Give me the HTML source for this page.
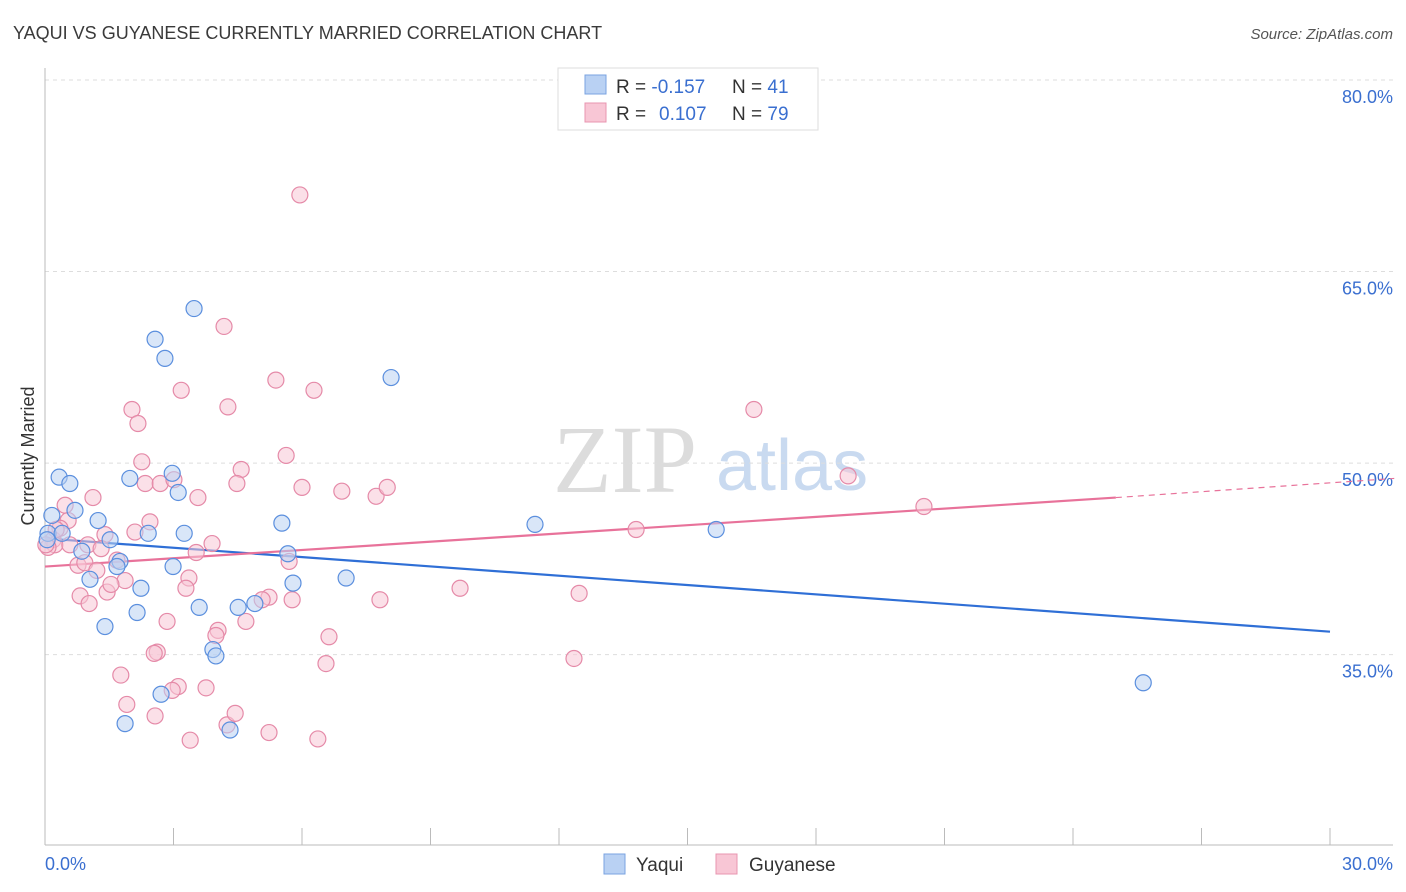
<!DOCTYPE html>
<html><head><meta charset="utf-8"><style>
body{margin:0;background:#fff;font-family:"Liberation Sans",sans-serif}
svg{display:block}
</style></head><body>
<svg id="chart" width="1406" height="892" viewBox="0 0 1406 892" xmlns="http://www.w3.org/2000/svg">
<text x="13" y="39" font-size="18" fill="#3a3a3a" font-family="Liberation Sans, sans-serif">YAQUI VS GUYANESE CURRENTLY MARRIED CORRELATION CHART</text>
<text x="1393" y="39" font-size="15" fill="#555" font-style="italic" text-anchor="end" font-family="Liberation Sans, sans-serif">Source: ZipAtlas.com</text>
<g>
<text x="553" y="492" font-size="96" fill="#dcdcdc" font-family="Liberation Serif, serif">ZIP</text>
<text x="716" y="490" font-size="72" fill="#c9daf0" font-family="Liberation Sans, sans-serif">atlas</text>
</g>
<g id="grid"></g>
<g id="axes"></g>
<g id="lines"></g>
<g id="points"></g>
<text transform="translate(34,456) rotate(-90)" font-size="18" fill="#333" text-anchor="middle" font-family="Liberation Sans, sans-serif">Currently Married</text>
<g>
<rect x="558" y="68" width="260" height="62" fill="#fff" stroke="#ddd"/>
<rect x="585" y="75" width="21" height="19" fill="#b9d1f3" stroke="#7aa3e0"/>
<rect x="585" y="103" width="21" height="19" fill="#f8c6d5" stroke="#e895b0"/>
<text x="616" y="93" font-size="19" fill="#333">R = <tspan fill="#3a6fd0">-0.157</tspan><tspan x="732">N = </tspan><tspan fill="#3a6fd0">41</tspan></text>
<text x="616" y="120" font-size="19" fill="#333">R = <tspan fill="#3a6fd0" x="659">0.107</tspan><tspan x="732">N = </tspan><tspan fill="#3a6fd0">79</tspan></text>
</g>
<g>
<rect x="604" y="854" width="21" height="20" fill="#b9d1f3" stroke="#7aa3e0"/>
<text x="636" y="871" font-size="19" fill="#333">Yaqui</text>
<rect x="716" y="854" width="21" height="20" fill="#f8c6d5" stroke="#e895b0"/>
<text x="749" y="871" font-size="19" fill="#333">Guyanese</text>
</g>
</svg>
<script>
const yTicks=[80,65,50,35];
const yTickLabels=["80.0%","65.0%","50.0%","35.0%"];
const xTickLabels=["0.0%","30.0%"];
const yaquiX=[0.33,0.58,0.16,0.70,1.24,0.07,1.52,0.86,1.05,1.75,1.68,1.98,2.41,2.97,3.11,3.25,2.99,2.24,2.15,1.40,3.60,3.92,3.99,4.51,4.90,4.32,1.87,2.71,2.57,2.80,3.48,5.53,5.67,5.79,7.03,8.08,11.44,15.67,25.64,0.40,0.05];
const yaquiY=[48.9,48.4,45.9,46.3,45.5,44.5,44.0,43.1,40.9,42.3,41.9,48.8,44.5,49.2,47.7,44.5,41.9,40.2,38.3,37.2,38.7,35.4,34.9,38.7,39.0,29.1,29.6,31.9,59.7,58.2,62.1,45.3,42.9,40.6,41.0,56.7,45.2,44.8,32.8,44.5,44.0];
const guyX=[5.95,4.18,3.18,5.39,6.28,4.27,2.03,2.17,16.55,5.63,2.26,4.58,2.34,2.69,3.01,3.57,4.48,6.00,6.93,7.73,7.99,1.12,0.47,0.54,2.45,1.40,2.10,3.90,0.35,0.19,0.77,0.93,1.21,1.00,1.68,1.87,1.45,0.82,1.03,1.54,3.36,3.29,3.53,5.70,4.69,4.04,3.99,2.85,5.23,5.07,5.77,7.82,9.69,12.47,13.80,18.75,20.52,6.63,6.56,2.62,2.55,1.77,1.91,2.57,3.11,2.97,3.76,3.39,4.25,4.44,5.23,6.37,12.35,0.23,0.07,0.58,0.26,1.31,0.02];
const guyY=[71.0,60.7,55.7,56.5,55.7,54.4,54.2,53.1,54.2,50.6,50.1,49.5,48.4,48.4,48.7,47.3,48.4,48.1,47.8,47.4,48.1,47.3,46.7,45.5,45.4,44.4,44.6,43.7,44.9,44.0,42.0,42.2,41.6,43.6,42.4,40.8,39.9,39.6,39.0,40.5,41.0,40.2,43.0,42.3,37.6,36.9,36.5,37.6,39.5,39.3,39.3,39.3,40.2,39.8,44.8,49.0,46.6,36.4,34.3,35.2,35.1,33.4,31.1,30.2,32.5,32.2,32.4,28.3,29.5,30.4,28.9,28.4,34.7,43.6,43.4,43.6,44.8,43.3,43.6];
const yaquiTrendX=[0,30];
const yaquiTrendY=[44.1,36.8];
const guyTrendX=[0,25,31.5];
const guyTrendY=[41.9,47.3,48.8];

const NS="http://www.w3.org/2000/svg";
function sx(v){return 45+v*(1285/30);}
function sy(v){return 80+(80-v)*12.77;}
function mk(tag,attrs,parent){const e=document.createElementNS(NS,tag);for(const k in attrs)e.setAttribute(k,attrs[k]);parent.appendChild(e);return e;}
const grid=document.getElementById('grid'),axes=document.getElementById('axes'),lines=document.getElementById('lines'),pts=document.getElementById('points');
yTicks.forEach((t,i)=>{
 const l=mk('line',{x1:45,x2:1393,y1:sy(t),y2:sy(t),stroke:'#ddd','stroke-dasharray':'4,4'},grid);
 
 
 const tx=mk('text',{x:1393,y:sy(t)+23,'text-anchor':'end','font-size':18,fill:'#3a6fd0'},grid);
 tx.textContent=yTickLabels[i];
 
 
});
const ya=mk('line',{x1:45,x2:45,y1:68,y2:845,stroke:'#bbb'},axes);


const xa=mk('line',{x1:45,x2:1393,y1:845,y2:845,stroke:'#bbb'},axes);


for(let i=1;i<=10;i++){
 const tk=mk('line',{x1:sx(i*3),x2:sx(i*3),y1:828,y2:845,stroke:'#bbb'},axes);
 
 
}
[[0,'start'],[30,'end']].forEach((p,i)=>{
 const tx=mk('text',{x:i?1393:45,y:870,'text-anchor':p[1],'font-size':18,fill:'#3a6fd0'},axes);
 tx.textContent=xTickLabels[i];
 
 
});
function dot(x,y,fill,stroke,name){
 const c=mk('circle',{cx:sx(x),cy:sy(y),r:8,fill:fill,'fill-opacity':0.55,stroke:stroke,'stroke-width':1.2},pts);
 
 
}
guyX.forEach((x,i)=>dot(x,guyY[i],'#f8c6d5','#e58aa8','guyanese-point'));
yaquiX.forEach((x,i)=>dot(x,yaquiY[i],'#b9d1f3','#5b8fde','yaqui-point'));
const bl=mk('line',{x1:sx(yaquiTrendX[0]),y1:sy(yaquiTrendY[0]),x2:sx(yaquiTrendX[1]),y2:sy(yaquiTrendY[1]),stroke:'#2f6fd6','stroke-width':2.2},lines);


const pl=mk('line',{x1:sx(guyTrendX[0]),y1:sy(guyTrendY[0]),x2:sx(guyTrendX[1]),y2:sy(guyTrendY[1]),stroke:'#e8729a','stroke-width':2.2},lines);


const pd=mk('line',{x1:sx(guyTrendX[1]),y1:sy(guyTrendY[1]),x2:sx(guyTrendX[2]),y2:sy(guyTrendY[2]),stroke:'#e8729a','stroke-width':1.2,'stroke-dasharray':'6,5'},lines);


</script>
</body></html>
